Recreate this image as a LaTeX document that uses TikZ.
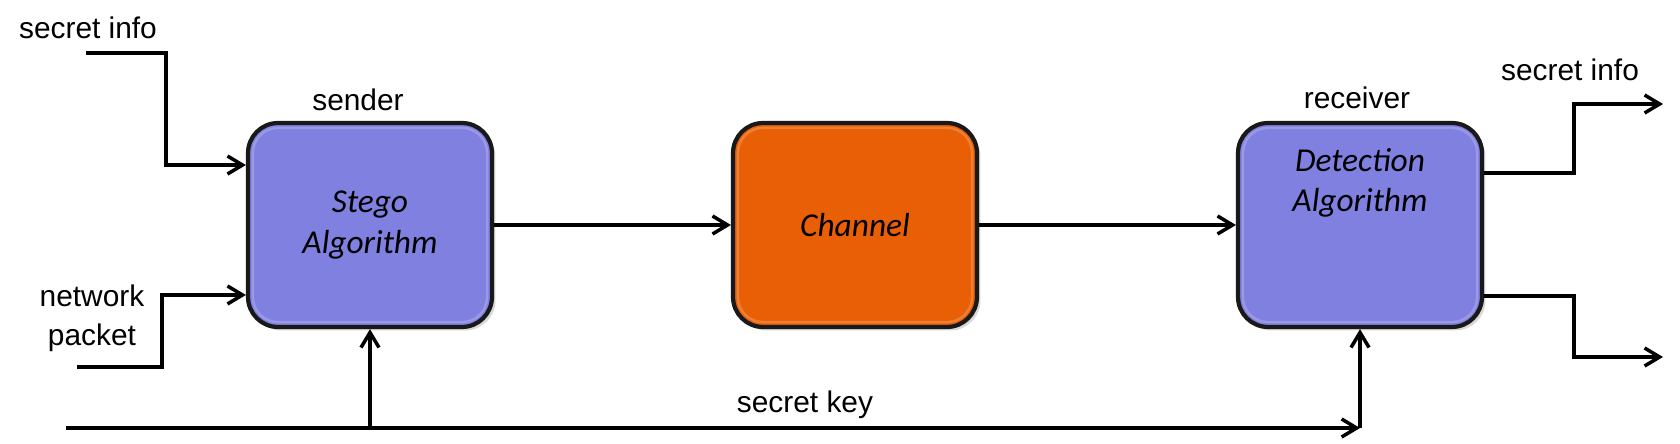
\documentclass[tikz,border=0pt]{standalone}
\usepackage{fontspec}
\setmainfont{Liberation Sans}
\newfontfamily\boxfont{Carlito}
\usetikzlibrary{arrows.meta,shadows}

\definecolor{algoblue}{RGB}{128,128,224}
\definecolor{chanorange}{RGB}{233,95,5}

\begin{document}
\begin{tikzpicture}[x=0.02cm,y=-0.02cm,
    blockbox/.style={draw=black!90,line width=2.4pt,rounded corners=0.6cm,
      minimum width=4.88cm,minimum height=4.08cm,align=center,
      font=\boxfont\itshape\fontsize{19}{23}\selectfont,
      drop shadow={opacity=0.3,shadow xshift=0.07cm,shadow yshift=-0.07cm}},
    lbl/.style={font=\fontsize{17}{22}\selectfont,align=center,inner sep=0pt},
    arr/.style={line width=2pt,-{Straight Barb[length=3mm,width=3.6mm,line width=2pt]}}]
  \useasboundingbox (0,0) rectangle (1680,443);

  % ---- the three blocks ---------------------------
  \node[blockbox,fill=algoblue]   (stego) at (370,225)  {Stego\\Algorithm};
  \node[blockbox,fill=chanorange] (chan)  at (855,225)  {Channel};
  \node[blockbox,fill=algoblue]   (recv)  at (1360,225) {};
  \node[font=\boxfont\itshape\fontsize{19}{23}\selectfont,align=center]
       (recvtext) at (1360,183) {Detection\\Algorithm};

  % light bevel just inside each block
  \foreach \b in {stego,chan,recv}
    \draw[white,opacity=0.2,line width=1.4pt,rounded corners=0.5cm]
      ([shift={(0.14cm,-0.14cm)}]\b.north west) rectangle ([shift={(-0.14cm,0.14cm)}]\b.south east);

  % ---- labels ----------------------------------------
  \node[lbl] (sendlbl) at (358,100)  {sender};
  \node[lbl] (recvlbl) at (1357,98)  {receiver};
  \node[lbl] (infoA)   at (88,28)    {secret info};
  \node[lbl] (packet)  at (92,318)   {network\\packet};
  \node[lbl] (keylbl)  at (805,405)  {secret key};
  \node[lbl] (infoB)   at (1570,70)  {secret info};

  % ---- free ends of the wires ------------------------
  \coordinate (inA)  at (86,53);
  \coordinate (inB)  at (77,367);
  \coordinate (keyin) at (66,428);
  \coordinate (keyend) at (recv.south |- keyin);
  \coordinate (outA) at (1663,104);
  \coordinate (outB) at (1663,357);

  % ---- inputs of the sender --------------------------
  \draw[arr] (inA) -- ++(80,0) |- ([yshift=1.2cm]stego.west);
  \draw[arr] (inB) -- ++(85,0) |- ([yshift=-1.4cm]stego.west);

  % ---- main chain ------------------------------------
  \draw[arr] (stego) -- (chan);
  \draw[arr] (chan) -- (recv);

  % ---- secret key ------------------------------------
  \draw[arr] (keyin) -- (keyend);
  \draw[arr] (keyend) -- (recv.south);
  \draw[arr] (stego.south |- keyin) -- (stego.south);

  % ---- outputs of the receiver -----------------------
  \draw[arr] ([yshift=1.04cm]recv.east) -- ++(90,0) |- (outA);
  \draw[arr] ([yshift=-1.42cm]recv.east) -- ++(90,0) |- (outB);
\end{tikzpicture}
\end{document}
